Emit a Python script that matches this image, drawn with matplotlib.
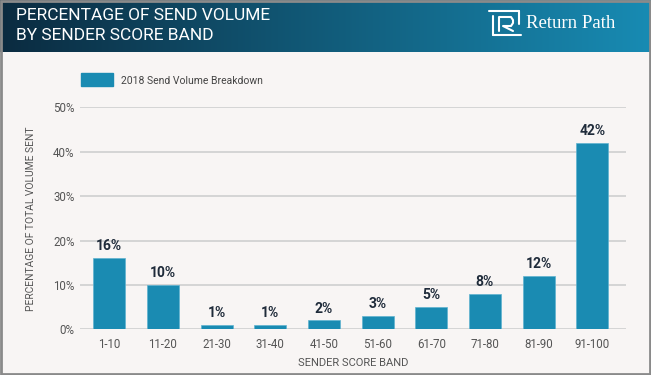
import matplotlib.pyplot as plt
from matplotlib.patches import Rectangle
from matplotlib.lines import Line2D
import numpy as np

bands = ['1-10', '11-20', '21-30', '31-40', '41-50', '51-60', '61-70', '71-80', '81-90', '91-100']
volume = [16, 10, 1, 1, 2, 3, 5, 8, 12, 42]
yticks = [0, 10, 20, 30, 40, 50]
series_name = '2018 Send Volume Breakdown'

W, H = 651, 375
bar_color = '#1a8bb2'
bg = '#f8f5f4'

plt.rcParams['font.family'] = ['Roboto', 'DejaVu Sans']

fig = plt.figure(figsize=(W / 100, H / 100), dpi=100)
fig.patch.set_facecolor(bg)


def fx(px):
    return px / W


def fy(py):
    return 1 - py / H


# header gradient band
hax = fig.add_axes([0, fy(52), 1, 52 / H])
c0 = np.array([0x0b, 0x2b, 0x40]) / 255
c1 = np.array([0x18, 0x8b, 0xb3]) / 255
t = np.linspace(0, 1, 300)
grad = c0[None, :] + (c1 - c0)[None, :] * t[:, None]
hax.imshow(grad[None, :, :], aspect='auto', extent=[0, 1, 0, 1])
hax.set_axis_off()

fig.text(fx(16), fy(15), 'PERCENTAGE OF SEND VOLUME', color='white', fontsize=12.5,
         va='center', ha='left')
fig.text(fx(16), fy(36), 'BY SENDER SCORE BAND', color='white', fontsize=12.5,
         va='center', ha='left')

# logo
fig.text(fx(526), fy(24), 'Return Path', color='white', fontsize=13.5,
         family='Liberation Serif', va='center', ha='left')
logo = [
    [(489, 11), (519, 11)],
    [(519, 11), (519, 24)],
    [(493, 16), (493, 35)],
    [(493, 35), (521, 35)],
    [(499, 31), (499, 17), (511, 17), (513, 20), (513, 23), (511, 26), (503, 26), (513, 31)],
]
for seg in logo:
    xs = [fx(p[0]) for p in seg]
    ys = [fy(p[1]) for p in seg]
    fig.add_artist(Line2D(xs, ys, color='white', lw=1.5, solid_capstyle='round'))

# main axes
ax_w = (626 - 80) / W
ax = fig.add_axes([fx(80), fy(329.3), ax_w, (329.3 - 107.3) / H])
ax.set_facecolor(bg)
x = np.arange(len(bands))
ax.bar(x, volume, width=0.596, color=bar_color, edgecolor='#5fb3d0', linewidth=0.5,
       zorder=3, label=series_name)
for xi, v in zip(x, volume):
    ax.text(xi, v + 1.1, f'{v}%', ha='center', va='bottom', fontsize=10,
            fontweight='bold', color='#1f2b3a')

ax.set_xlim(-0.546, 9.628)
ax.set_ylim(0, 50)
ax.set_yticks(yticks)
ax.set_yticklabels([f'{v}%' for v in yticks])
ax.set_xticks(x)
ax.set_xticklabels(bands)
ax.yaxis.grid(True, color='#cfcfcf', lw=1.2, zorder=0)
ax.set_axisbelow(True)
for s in ax.spines.values():
    s.set_visible(False)
ax.tick_params(axis='both', length=0, labelsize=8.3, colors='#555555')
ax.tick_params(axis='y', pad=4)
ax.tick_params(axis='x', pad=6)
ax.set_xlabel('SENDER SCORE BAND', fontsize=8, color='#555555', labelpad=5)
ax.set_ylabel('PERCENTAGE OF TOTAL VOLUME SENT', fontsize=7.4, color='#555555')
ax.yaxis.set_label_coords((36 - 80) / W / ax_w, 0.5)

# legend
fig.add_artist(Rectangle((fx(81), fy(86)), 32 / W, 13 / H, color=bar_color,
                         transform=fig.transFigure))
fig.text(fx(121), fy(80.5), series_name, fontsize=7.5, color='#444444', va='center', ha='left')

# outer border
fig.add_artist(Rectangle((0.0015, 0.0027), 0.997, 0.9946, fill=False, edgecolor='#8a8a8a',
                         lw=2, transform=fig.transFigure))

fig.savefig('out.png', dpi=100, facecolor=bg)
